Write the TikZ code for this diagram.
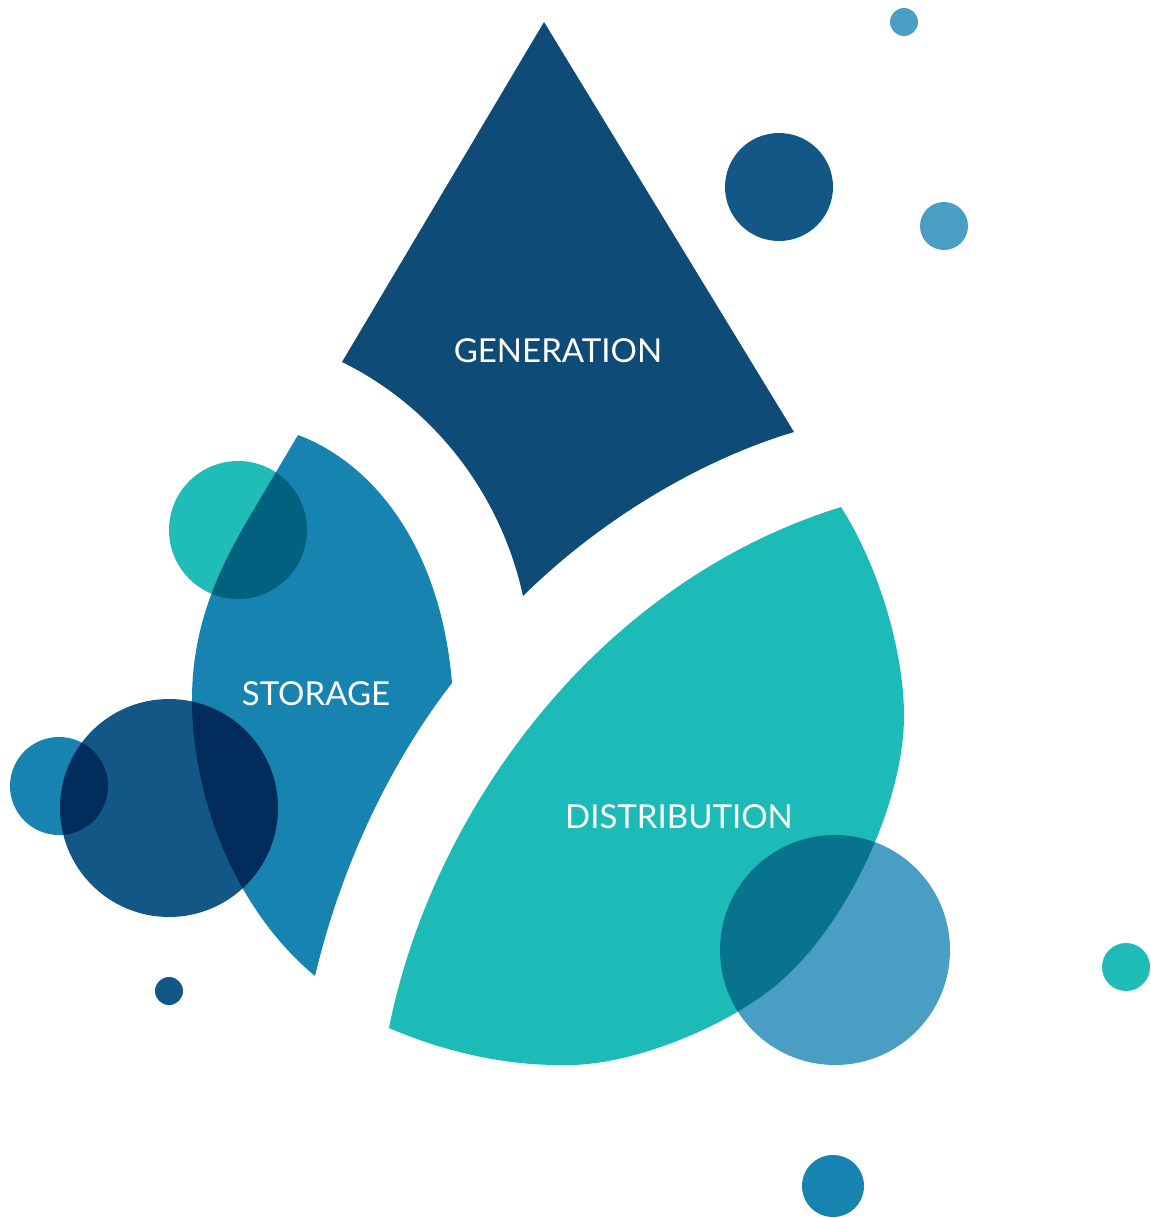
\documentclass[tikz,border=0pt]{standalone}
\usepackage{fontspec}
\setmainfont{Lato}
\definecolor{gen}{HTML}{0E4B77}
\definecolor{stor}{HTML}{1783B1}
\definecolor{dist}{HTML}{1CBBB7}
\definecolor{tealc}{HTML}{20BDB8}
\definecolor{navyc}{HTML}{125785}
\definecolor{lightc}{HTML}{4A9EC4}
\tikzset{
  label/.style={text=white, font=\fontsize{33}{38}\selectfont, inner sep=0pt},
  bubble/.style={blend mode=multiply}
}
\begin{document}
\begin{tikzpicture}[x=1pt,y=-1pt]
\useasboundingbox (0,0) rectangle (1151,1218);
% Generation
\fill[gen] (544,22) -- (794,432)
  .. controls (700,460) and (600,520) .. (523,596)
  .. controls (500,490) and (430,405) .. (342,362) -- cycle;
% Storage
\fill[stor] (298,435)
  .. controls (368,461) and (440,540) .. (452,683)
  .. controls (400,750) and (345,850) .. (315,976)
  .. controls (230,905) and (192,790) .. (192,700)
  .. controls (192,630) and (215,575) .. (250,516) -- cycle;
% Distribution
\fill[dist] (841,507)
  .. controls (878,565) and (904,650) .. (904,716)
  .. controls (904,800) and (850,920) .. (781,981)
  .. controls (731,1025) and (630,1068) .. (559,1065)
  .. controls (500,1065) and (440,1050) .. (389,1028)
  .. controls (430,820) and (590,585) .. (841,507) -- cycle;
% Bubbles
\begin{scope}[bubble]
\fill[tealc] (238,530) circle[radius=69];
\fill[navyc] (169,808) circle[radius=109];
\fill[stor] (59,786) circle[radius=49];
\fill[lightc] (835,950) circle[radius=115];
\end{scope}
\fill[navyc] (169,991) circle[radius=14];
\fill[stor] (833,1186) circle[radius=31];
\fill[tealc] (1126,967) circle[radius=24];
\fill[lightc] (904,22) circle[radius=14];
\fill[navyc] (779,187) circle[radius=54];
\fill[lightc] (944,226) circle[radius=24];
% Labels
\node[label] (genlabel) at (558,351) {GENERATION};
\node[label] (storlabel) at (316,694) {STORAGE};
\node[label] (distlabel) at (679,817) {DISTRIBUTION};
\end{tikzpicture}
\end{document}
